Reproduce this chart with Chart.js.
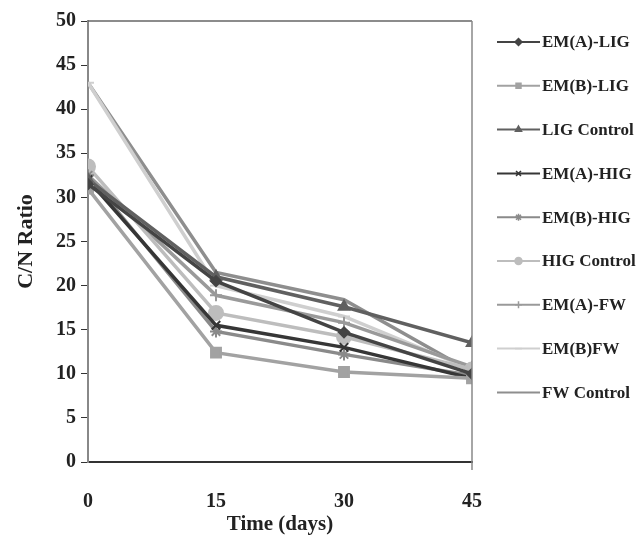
<!DOCTYPE html>
<html>
<head>
<meta charset="utf-8">
<script src="https://cdn.jsdelivr.net/npm/chart.js@4.4.1/dist/chart.umd.min.js"></script>
<style>
  html, body { margin: 0; padding: 0; background: #fff; }
  #wrap { width: 642px; height: 537px; }
</style>
</head>
<body>
<div id="wrap"><canvas id="myChart" width="642" height="537"></canvas></div>
<script>
// days
const days = [0, 15, 30, 45];
const seriesNames = ['EM(A)-LIG', 'EM(B)-LIG', 'LIG Control', 'EM(A)-HIG', 'EM(B)-HIG',
  'HIG Control', 'EM(A)-FW', 'EM(B)FW', 'FW Control'];

// C/N ratio
const emaLig = [31.5, 20.5, 14.7, 10.0];
const embLig = [31.0, 12.4, 10.2, 9.5];
const ligControl = [32.0, 21.0, 17.6, 13.5];
const emaHig = [32.0, 15.5, 13.0, 9.5];
const embHig = [32.5, 14.8, 12.2, 9.8];
const higControl = [33.5, 16.9, 14.2, 10.5];
const emaFw = [32.5, 18.9, 15.8, 10.8];
const embFw = [43.0, 20.0, 16.5, 10.5];
const fwControl = [43.0, 21.5, 18.4, 10.2];

const yTicks = [0, 5, 10, 15, 20, 25, 30, 35, 40, 45, 50];

const allValues = [emaLig, embLig, ligControl, emaHig, embHig, higControl, emaFw, embFw, fwControl];
const colors = ['#444444', '#a2a2a2', '#606060', '#363636', '#8a8a8a', '#bdbdbd', '#9a9a9a', '#cfcfcf', '#8e8e8e'];
const markers = ['rectRot', 'rect', 'triangle', 'crossRot', 'star', 'circle', 'cross', 'line', false];
const sizes = [5, 7, 6, 6, 6, 7, 6, 6, 0];

const serif = '"Liberation Serif", "Times New Roman", serif';

const datasets = allValues.map(function (vals, i) {
  return {
    label: seriesNames[i],
    data: vals.map(function (v, j) { return { x: days[j], y: v }; }),
    borderColor: colors[i],
    backgroundColor: colors[i],
    pointBorderColor: colors[i],
    pointBackgroundColor: colors[i],
    pointStyle: markers[i],
    pointRadius: sizes[i],
    pointBorderWidth: 2,
    borderWidth: 3.5,
    tension: 0
  };
});

// legend drawn at the right, line with marker in the middle
const sideLegend = {
  id: 'sideLegend',
  afterDraw(chart) {
    const c = chart.ctx;
    const a = chart.chartArea;
    c.save();
    // box round plot area
    c.strokeStyle = '#666';
    c.lineWidth = 1.5;
    c.beginPath();
    c.moveTo(a.left, a.top);
    c.lineTo(a.right, a.top);
    c.stroke();
    c.strokeStyle = '#888';
    c.beginPath();
    c.moveTo(a.right, a.top);
    c.lineTo(a.right, a.bottom + 8);
    c.stroke();

    c.font = 'bold 17px ' + serif;
    c.textBaseline = 'middle';
    chart.data.datasets.forEach(function (ds, i) {
      const y = 42 + i * 43.8;
      const x0 = 497, x1 = 540;
      c.strokeStyle = ds.borderColor;
      c.lineWidth = 2;
      c.beginPath();
      c.moveTo(x0, y);
      c.lineTo(x1, y);
      c.stroke();
      if (ds.pointStyle) {
        c.fillStyle = ds.borderColor;
        c.strokeStyle = ds.borderColor;
        c.lineWidth = 1.5;
        Chart.helpers.drawPoint(c, { pointStyle: ds.pointStyle, radius: 3.5, rotation: 0, borderWidth: 1.5 }, (x0 + x1) / 2, y);
      }
      c.fillStyle = '#222';
      c.fillText(ds.label, 542, y + 1);
    });
    c.restore();
  }
};

const ctx = document.getElementById('myChart');
new Chart(ctx, {
  type: 'line',
  data: { datasets: datasets },
  options: {
    responsive: false,
    animation: false,
    layout: { padding: { top: 21, right: 170, left: 0, bottom: 0 } },
    plugins: { legend: { display: false }, tooltip: { enabled: false } },
    scales: {
      x: {
        type: 'linear',
        min: 0,
        max: 45,
        afterBuildTicks: function (s) { s.ticks = days.map(function (d) { return { value: d }; }); },
        afterFit: function (s) { s.height = 75; },
        grid: { display: false, drawOnChartArea: false },
        border: { color: '#333', width: 2 },
        ticks: {
          color: '#222',
          padding: 20,
          font: { family: serif, size: 20, weight: 'bold' }
        },
        title: {
          display: true,
          text: 'Time (days)',
          color: '#222',
          padding: { top: 0, bottom: 0 },
          font: { family: serif, size: 21, weight: 'bold' }
        }
      },
      y: {
        min: 0,
        max: 50,
        afterBuildTicks: function (s) { s.ticks = yTicks.map(function (v) { return { value: v }; }); },
        afterFit: function (s) { s.width = 88; },
        grid: { display: true, drawOnChartArea: false, drawTicks: true, tickLength: 7, color: '#333' },
        border: { color: '#888', width: 2 },
        ticks: {
          color: '#222',
          padding: 5,
          font: { family: serif, size: 20, weight: 'bold' }
        },
        title: {
          display: true,
          text: 'C/N Ratio',
          color: '#222',
          padding: { top: 13, bottom: 0 },
          font: { family: serif, size: 22, weight: 'bold' }
        }
      }
    }
  },
  plugins: [sideLegend]
});
</script>
</body>
</html>
